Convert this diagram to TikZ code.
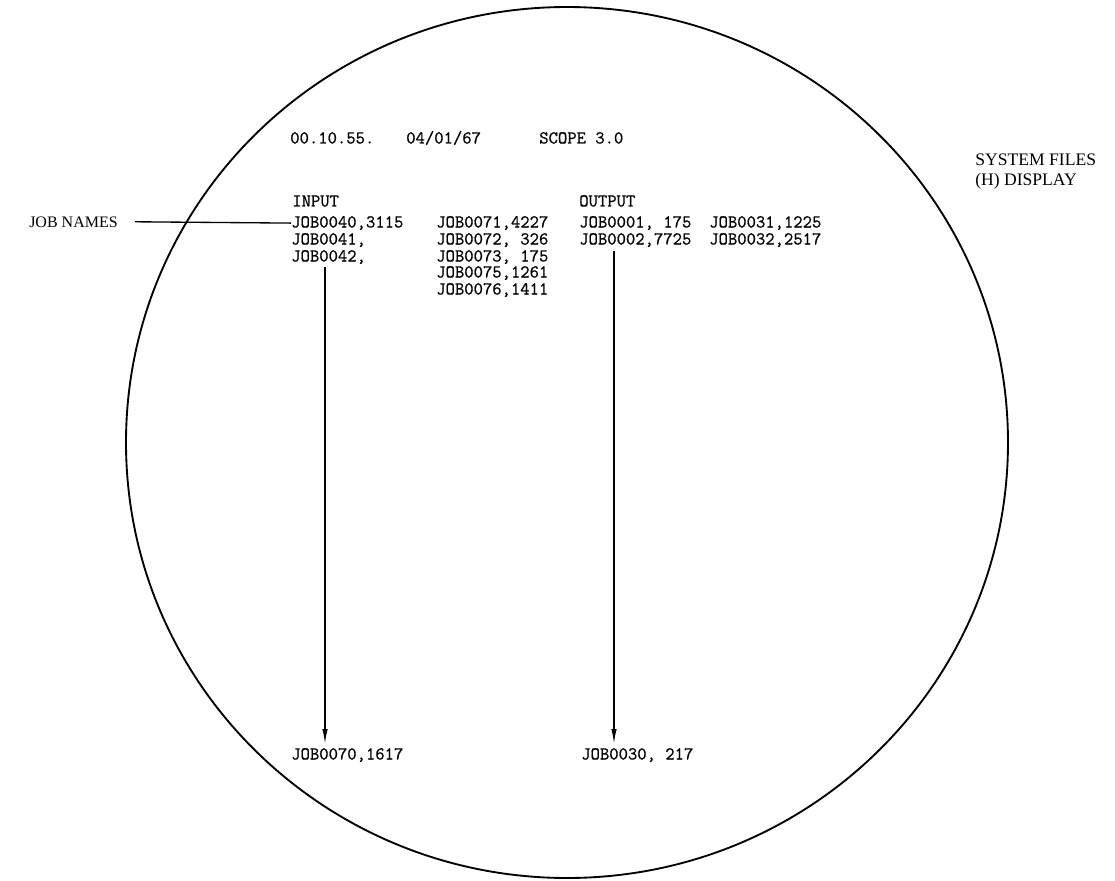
\documentclass[tikz,border=0pt]{standalone}
\usepackage{fontspec}
\setmainfont{Liberation Serif}
\newfontfamily\typewr{Latin Modern Mono}[FakeBold=0.7]
\usetikzlibrary{arrows.meta,calc}
\begin{document}
\begin{tikzpicture}[x=0.75pt,y=-0.75pt,
  mono/.style={font=\typewr\fontsize{13.6}{16}\selectfont, inner sep=0pt, anchor=base west},
  lab/.style={font=\fontsize{13.2}{15}\selectfont, inner sep=0pt, anchor=base west},
  screen/.style={draw, line width=1.4pt},
  conn/.style={draw, line width=1pt},
  arr/.style={conn, -{Latex[length=11pt,width=4pt]}}]
\useasboundingbox (0,0) rectangle (1115,881);
% screen
\draw[screen] (567,442.5) ellipse [x radius=441, y radius=435.5];
% header
\node[mono] (time)  at (290,143.5) {00.10.55.};
\node[mono] (date)  at (406,143.5) {04/01/67};
\node[mono] (scope) at (539,143.5) {SCOPE 3.0};
\node[mono] (input)  at (292,206.5) {INPUT};
\node[mono] (output) at (579,206.5) {OUTPUT};
% input column 1
\node[mono] (j40) at (291,227.5) {JOB0040,3115};
\node[mono] (j41) at (291,244.5) {JOB0041,};
\node[mono] (j42) at (291,261.5) {JOB0042,};
% input column 2
\node[mono] (j71) at (436,227.5) {JOB0071,4227};
\node[mono] (j72) at (436,244.5) {JOB0072, 326};
\node[mono] (j73) at (436,261.5) {JOB0073, 175};
\node[mono] (j75) at (436,277.5) {JOB0075,1261};
\node[mono] (j76) at (436,294.5) {JOB0076,1411};
% output columns
\node[mono] (j01) at (579,227.5) {JOB0001, 175};
\node[mono] (j02) at (579,244.5) {JOB0002,7725};
\node[mono] (j31) at (709,227.5) {JOB0031,1225};
\node[mono] (j32) at (709,244.5) {JOB0032,2517};
% bottom
\node[mono] (j70) at (291,759.5) {JOB0070,1617};
\node[mono] (j30) at (581,759.5) {JOB0030, 217};
% labels
\node[lab, font=\fontsize{12}{14}\selectfont, anchor=base east] (names) at (118,227) {JOB NAMES};
\node[lab] (sysf) at (975,165.5) {SYSTEM FILES};
\node[lab] (disp) at (975,185.5) {(H) DISPLAY};
% connectors
\draw[conn] ($(names.east)+(17,0)$) -- (j40.west);
\draw[arr] ($(j42.south west)+(34,3)$) -- ($(j70.north west)+(34,-4)$);
\draw[arr] ($(j02.south west)+(35,4)$) -- ($(j30.north west)+(33,-4)$);
\end{tikzpicture}
\end{document}
